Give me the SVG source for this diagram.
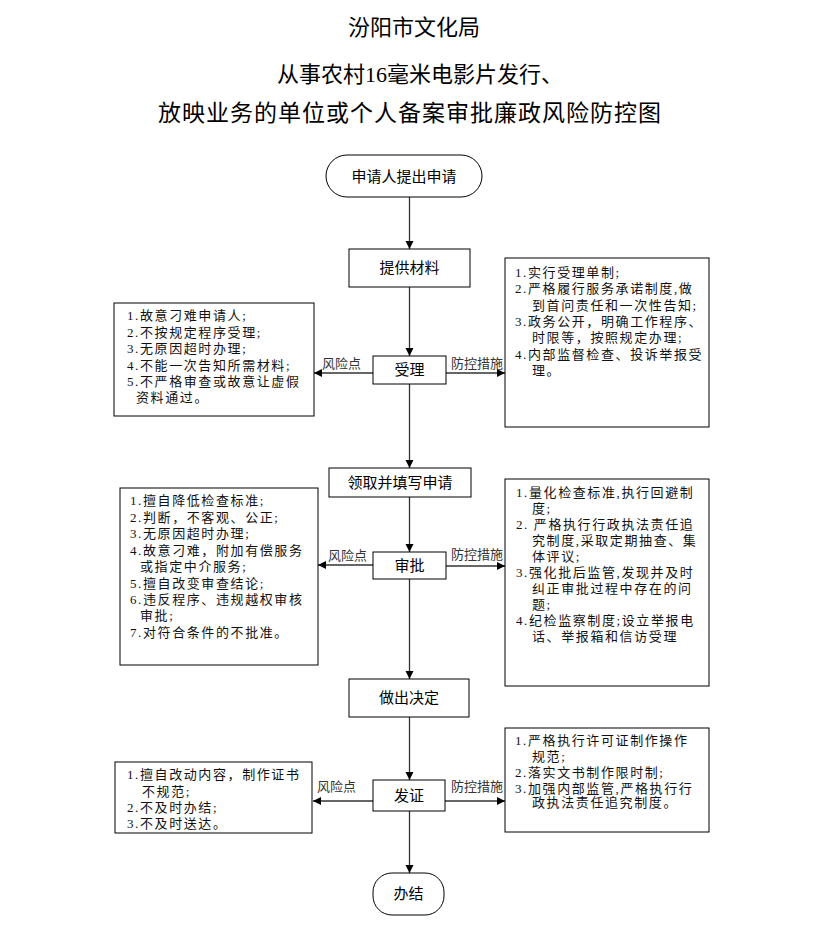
<svg xmlns="http://www.w3.org/2000/svg" width="823" height="932" viewBox="0 0 823 932">
<style>
.title{font-family:"Liberation Serif","Noto Sans CJK SC",serif;fill:#000;text-anchor:middle}
.node{fill:#fff;stroke:#000;stroke-width:1}
.nl{font-family:"Noto Sans CJK SC",sans-serif;font-size:15px;fill:#000;text-anchor:middle}
.box{fill:#fff;stroke:#000;stroke-width:1}
.bt{font-family:"Liberation Serif","Noto Sans CJK SC",serif;font-size:13px;fill:#111;letter-spacing:1.6px}
.lab{font-family:"Noto Sans CJK SC",sans-serif;font-size:13px;fill:#333}
.con{stroke:#333;stroke-width:1.3;fill:none;marker-end:url(#ah)}
</style>
<defs>
<marker id="ah" markerUnits="userSpaceOnUse" markerWidth="9" markerHeight="9" refX="8" refY="4" orient="auto">
<path d="M0,0 L8,4 L0,8 z" fill="#000"/>
</marker>
</defs>
<rect width="823" height="932" fill="#fff"/>
<g id="title">
<text class="title" x="414" y="35" font-size="22">汾阳市文化局</text>
<text class="title" x="420" y="82" font-size="22">从事农村16毫米电影片发行、</text>
<text class="title" x="410" y="121" font-size="23" letter-spacing="1">放映业务的单位或个人备案审批廉政风险防控图</text>
</g>
<g id="connectors">
<line class="con" x1="409.5" y1="197" x2="409.5" y2="249"/>
<line class="con" x1="409.5" y1="287" x2="409.5" y2="356"/>
<line class="con" x1="409.5" y1="384" x2="409.5" y2="468"/>
<line class="con" x1="409.5" y1="497" x2="409.5" y2="552"/>
<line class="con" x1="409.5" y1="579" x2="409.5" y2="679"/>
<line class="con" x1="409.5" y1="717" x2="409.5" y2="780"/>
<line class="con" x1="409.5" y1="811" x2="409.5" y2="873"/>
<line class="con" x1="373" y1="373" x2="314" y2="373"/>
<line class="con" x1="446" y1="373" x2="505" y2="373"/>
<line class="con" x1="373" y1="565" x2="318" y2="565"/>
<line class="con" x1="446" y1="566" x2="505" y2="566"/>
<line class="con" x1="373" y1="801" x2="313" y2="801"/>
<line class="con" x1="445" y1="801" x2="505" y2="801"/>
<text class="lab" x="322" y="368">风险点</text>
<text class="lab" x="451" y="368">防控措施</text>
<text class="lab" x="328" y="560">风险点</text>
<text class="lab" x="451" y="559">防控措施</text>
<text class="lab" x="317" y="791">风险点</text>
<text class="lab" x="451" y="791">防控措施</text>
</g>
<g id="start">
<rect class="node" x="326" y="155" width="156" height="42" rx="21"/>
<text class="nl" x="404" y="182">申请人提出申请</text>
</g>
<g id="materials">
<rect class="node" x="349" y="249" width="121" height="38"/>
<text class="nl" x="409.5" y="273">提供材料</text>
</g>
<g id="accept">
<rect class="node" x="373" y="356" width="73" height="28"/>
<text class="nl" x="409.5" y="375">受理</text>
</g>
<g id="fill">
<rect class="node" x="329" y="468" width="142" height="29"/>
<text class="nl" x="400" y="488">领取并填写申请</text>
</g>
<g id="approve">
<rect class="node" x="373" y="552" width="73" height="27"/>
<text class="nl" x="409.5" y="571">审批</text>
</g>
<g id="decide">
<rect class="node" x="349" y="679" width="120" height="38"/>
<text class="nl" x="409" y="703">做出决定</text>
</g>
<g id="certify">
<rect class="node" x="373" y="780" width="72" height="31"/>
<text class="nl" x="409" y="801">发证</text>
</g>
<g id="end">
<rect class="node" x="373" y="873" width="71" height="42" rx="19"/>
<text class="nl" x="408.5" y="899">办结</text>
</g>
<g id="risk1">
<rect class="box" x="114" y="303" width="200" height="113"/>
<text class="bt" x="127" y="320">1.故意刁难申请人;</text>
<text class="bt" x="127" y="336.5">2.不按规定程序受理;</text>
<text class="bt" x="127" y="353">3.无原因超时办理;</text>
<text class="bt" x="127" y="369.5">4.不能一次告知所需材料;</text>
<text class="bt" x="127" y="386">5.不严格审查或故意让虚假</text>
<text class="bt" x="136" y="402">资料通过。</text>
</g>
<g id="measure1">
<rect class="box" x="505" y="258" width="204" height="169"/>
<text class="bt" x="515" y="277">1.实行受理单制;</text>
<text class="bt" x="515" y="293">2.严格履行服务承诺制度,做</text>
<text class="bt" x="532" y="309.5">到首问责任和一次性告知;</text>
<text class="bt" x="515" y="326">3.政务公开，明确工作程序、</text>
<text class="bt" x="532" y="342">时限等，按照规定办理;</text>
<text class="bt" x="515" y="358.5">4.内部监督检查、投诉举报受</text>
<text class="bt" x="532" y="375">理。</text>
</g>
<g id="risk2">
<rect class="box" x="120" y="488" width="198" height="177"/>
<text class="bt" x="130" y="505">1.擅自降低检查标准;</text>
<text class="bt" x="130" y="521.5">2.判断，不客观、公正;</text>
<text class="bt" x="130" y="538">3.无原因超时办理;</text>
<text class="bt" x="130" y="554.5">4.故意刁难，附加有偿服务</text>
<text class="bt" x="140" y="571">或指定中介服务;</text>
<text class="bt" x="130" y="587.5">5.擅自改变审查结论;</text>
<text class="bt" x="130" y="604">6.违反程序、违规越权审核</text>
<text class="bt" x="140" y="620">审批;</text>
<text class="bt" x="130" y="636.5">7.对符合条件的不批准。</text>
</g>
<g id="measure2">
<rect class="box" x="505" y="479" width="204" height="207"/>
<text class="bt" x="516" y="497">1.量化检查标准,执行回避制</text>
<text class="bt" x="532" y="513">度;</text>
<text class="bt" x="516" y="529">2. 严格执行行政执法责任追</text>
<text class="bt" x="532" y="545">究制度,采取定期抽查、集</text>
<text class="bt" x="532" y="561">体评议;</text>
<text class="bt" x="516" y="577">3.强化批后监管,发现并及时</text>
<text class="bt" x="532" y="593">纠正审批过程中存在的问</text>
<text class="bt" x="532" y="609">题;</text>
<text class="bt" x="516" y="625">4.纪检监察制度;设立举报电</text>
<text class="bt" x="532" y="641">话、举报箱和信访受理</text>
</g>
<g id="risk3">
<rect class="box" x="115" y="762" width="197" height="71"/>
<text class="bt" x="127" y="779">1.擅自改动内容，制作证书</text>
<text class="bt" x="142" y="795.5">不规范;</text>
<text class="bt" x="127" y="812">2.不及时办结;</text>
<text class="bt" x="127" y="828">3.不及时送达。</text>
</g>
<g id="measure3">
<rect class="box" x="505" y="728" width="204" height="104"/>
<text class="bt" x="515" y="745">1.严格执行许可证制作操作</text>
<text class="bt" x="532" y="761">规范;</text>
<text class="bt" x="515" y="777">2.落实文书制作限时制;</text>
<text class="bt" x="515" y="793">3.加强内部监管,严格执行行</text>
<text class="bt" x="532" y="807">政执法责任追究制度。</text>
</g>
</svg>
